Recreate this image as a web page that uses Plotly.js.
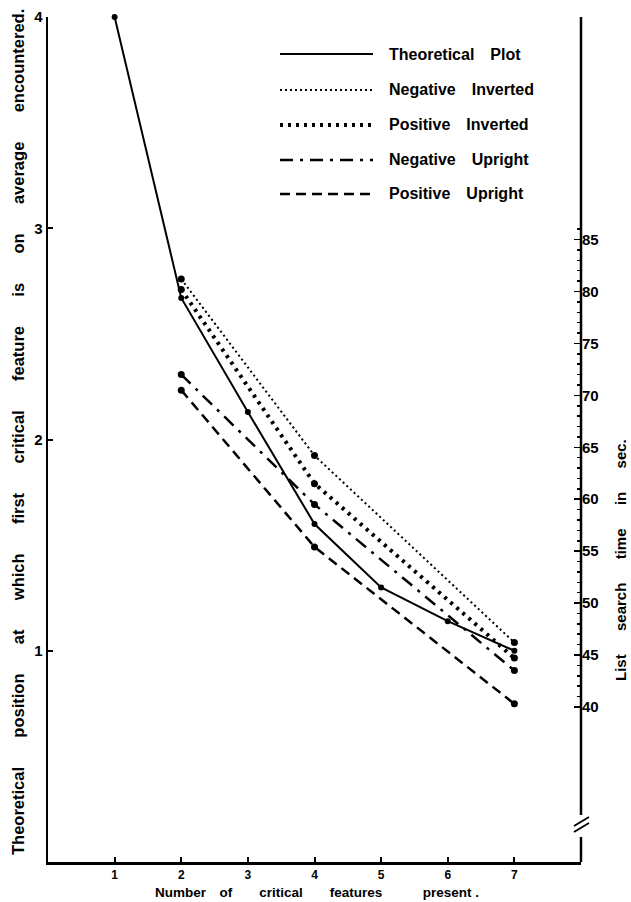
<!DOCTYPE html>
<html>
<head>
<meta charset="utf-8">
<script src="https://cdn.plot.ly/plotly-3.0.1.min.js"></script>
<style>
  html, body { margin: 0; padding: 0; background: #ffffff; }
  #chart { width: 631px; height: 902px; }
</style>
</head>
<body>
<div id="chart"></div>
<script>
// ---- data ----
const theoX = [1, 2, 3, 4, 5, 6, 7];
const theoY = [4.0, 2.67, 2.13, 1.6, 1.3, 1.14, 1.0];      // theoretical position (left axis)
const empX = [2, 4, 7];
const negInvSec = [81.2, 64.2, 46.2];   // list search time in sec (right axis)
const posInvSec = [80.2, 61.5, 44.7];
const negUpSec  = [72.0, 59.5, 43.5];
const posUpSec  = [70.5, 55.4, 40.3];
const xTickVals = [1, 2, 3, 4, 5, 6, 7];
const leftTickVals = [1, 2, 3, 4];
const rightTickVals = [40, 45, 50, 55, 60, 65, 70, 75, 80, 85];
const seriesNames = ["Theoretical Plot", "Negative Inverted", "Positive Inverted", "Negative Upright", "Positive Upright"];

// ---- styling ----
const FONT = "Liberation Sans, Arial, Helvetica, sans-serif";
const styles = [
  {width: 2,   dash: "solid"},
  {width: 2,   dash: "2px,3px"},
  {width: 4,   dash: "3px,5px"},
  {width: 2.5, dash: "13px,7px,3px,7px"},
  {width: 2.5, dash: "10px,6px"}
];
const marker = {size: 7, color: "black"};

const minorVals = [];
for (let v = 40; v <= 86; v++) minorVals.push(v);

const traces = [
  {x: theoX, y: theoY, mode: "lines+markers", yaxis: "y", cliponaxis: false,
   line: {color: "black", width: styles[0].width, dash: styles[0].dash},
   marker: {size: 6, color: "black"}, name: seriesNames[0]},
  {x: empX, y: negInvSec, mode: "lines+markers", yaxis: "y2", cliponaxis: false,
   line: {color: "black", width: styles[1].width, dash: styles[1].dash}, marker: marker, name: seriesNames[1]},
  {x: empX, y: posInvSec, mode: "lines+markers", yaxis: "y2", cliponaxis: false,
   line: {color: "black", width: styles[2].width, dash: styles[2].dash}, marker: marker, name: seriesNames[2]},
  {x: empX, y: negUpSec, mode: "lines+markers", yaxis: "y2", cliponaxis: false,
   line: {color: "black", width: styles[3].width, dash: styles[3].dash}, marker: marker, name: seriesNames[3]},
  {x: empX, y: posUpSec, mode: "lines+markers", yaxis: "y2", cliponaxis: false,
   line: {color: "black", width: styles[4].width, dash: styles[4].dash}, marker: marker, name: seriesNames[4]},
  {x: [null], y: [null], yaxis: "y3", mode: "markers", hoverinfo: "skip", showlegend: false}
];

// plot area geometry helpers (pixels -> paper)
const W = 631, H = 902, ML = 48, MR = 50, MT = 17, MB = 40;
const PW = W - ML - MR, PH = H - MT - MB;
const px = (x) => (x - ML) / PW;
const py = (y) => (H - MB - y) / PH;

const shapes = [];
const annotations = [];

// right axis line with break
shapes.push({type: "line", xref: "paper", yref: "paper", x0: 1, x1: 1, y0: py(815), y1: 1,
  line: {color: "black", width: 2.5}});
shapes.push({type: "line", xref: "paper", yref: "paper", x0: 1, x1: 1, y0: 0, y1: py(837),
  line: {color: "black", width: 2.5}});
shapes.push({type: "line", xref: "paper", yref: "paper", x0: px(574), x1: px(589), y0: py(826), y1: py(817),
  line: {color: "black", width: 2}});
shapes.push({type: "line", xref: "paper", yref: "paper", x0: px(574), x1: px(589), y0: py(832), y1: py(823),
  line: {color: "black", width: 2}});

// hand-drawn style legend
const legY = [54, 90, 125, 160, 194];
for (let i = 0; i < seriesNames.length; i++) {
  shapes.push({type: "line", xref: "paper", yref: "paper",
    x0: px(280), x1: px(373), y0: py(legY[i]), y1: py(legY[i]),
    line: {color: "black", width: styles[i].width, dash: styles[i].dash}});
  annotations.push({xref: "paper", yref: "paper", x: px(387), y: py(legY[i]),
    xanchor: "left", yanchor: "middle", showarrow: false,
    text: seriesNames[i].replace(" ", "\u2003"),
    font: {family: FONT, size: 16, color: "black", weight: "bold"}});
}

// axis titles
const G = "\u2003\u2002\u00a0";
annotations.push({xref: "paper", yref: "paper", x: px(18), y: py(432), textangle: -90,
  xanchor: "center", yanchor: "middle", showarrow: false,
  text: ["Theoretical", "position", "at", "which", "first", "critical", "feature", "is", "on", "average", "encountered."].join(G),
  font: {family: FONT, size: 16.5, color: "black", weight: "bold"}});
annotations.push({xref: "paper", yref: "paper", x: px(620), y: py(560), textangle: -90,
  xanchor: "center", yanchor: "middle", showarrow: false,
  text: ["List", "search", "time", "in", "sec."].join("\u2003\u00a0\u00a0"),
  font: {family: FONT, size: 15, color: "black", weight: "bold"}});
annotations.push({xref: "paper", yref: "paper", x: px(317), y: py(892),
  xanchor: "center", yanchor: "middle", showarrow: false,
  text: "Number\u2003of\u2003\u2003critical\u2003\u2003features\u2003\u2003\u2003present .",
  font: {family: FONT, size: 13.5, color: "black", weight: "bold"}});

const layout = {
  width: W, height: H,
  margin: {l: ML, r: MR, t: MT, b: MB, pad: 0},
  paper_bgcolor: "white", plot_bgcolor: "white",
  showlegend: false,
  xaxis: {range: [0, 8], tickmode: "array", tickvals: xTickVals, ticks: "inside", ticklen: 5, tickwidth: 2,
    tickcolor: "black", showline: true, linecolor: "black", linewidth: 2.5, showgrid: false, zeroline: false,
    tickfont: {family: FONT, size: 12, color: "black", weight: "bold"}},
  yaxis: {range: [0, 4], tickmode: "array", tickvals: leftTickVals, ticks: "inside", ticklen: 5, tickwidth: 2,
    tickcolor: "black", showline: true, linecolor: "black", linewidth: 2.5, showgrid: false, zeroline: false,
    tickfont: {family: FONT, size: 15, color: "black", weight: "bold"}},
  yaxis2: {range: [25.07, 106.43], overlaying: "y", side: "right", tickmode: "array", tickvals: rightTickVals,
    ticks: "inside", ticklen: 7, tickwidth: 1.5, tickcolor: "black", showline: false, showgrid: false, zeroline: false,
    tickfont: {family: FONT, size: 15, color: "black", weight: "bold"}},
  yaxis3: {range: [25.07, 106.43], overlaying: "y", side: "right", tickmode: "array", tickvals: minorVals,
    ticks: "inside", ticklen: 4, tickwidth: 1.5, tickcolor: "black", showline: false, showgrid: false,
    zeroline: false, showticklabels: false},
  shapes: shapes,
  annotations: annotations
};

Plotly.newPlot("chart", traces, layout, {staticPlot: true, displayModeBar: false});
</script>
</body>
</html>
